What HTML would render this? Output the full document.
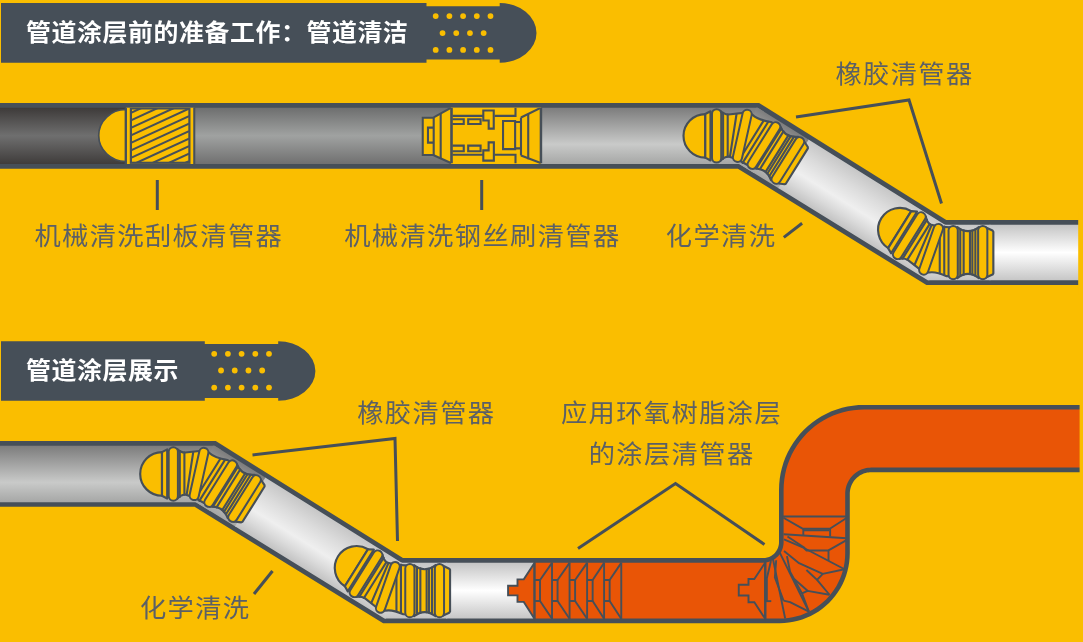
<!DOCTYPE html>
<html lang="zh-CN"><head><meta charset="utf-8"><title>管道涂层</title>
<style>
html,body{margin:0;padding:0;background:#FABE00;}
body{width:1083px;height:642px;overflow:hidden;}
svg{display:block;}
text{font-family:"Liberation Sans","Noto Sans CJK SC",sans-serif;}
.h{font-size:24.2px;font-weight:700;letter-spacing:0.56px;fill:#fff;}
.l{font-size:25.5px;font-weight:400;letter-spacing:1.35px;fill:#5B6066;}
.pg{fill:#FABE00;stroke:#464F58;stroke-width:2.15;stroke-linejoin:round;}
.po{fill:none;stroke:#464F58;stroke-width:11.2;stroke-linecap:round;}
.pi{fill:none;stroke:#FABE00;stroke-width:7.2;stroke-linecap:round;}
.ln{fill:none;stroke:#464F58;stroke-width:2.1;stroke-linecap:round;}
.bl{fill:none;stroke:#464F58;stroke-width:2.1;stroke-linejoin:miter;}
.cl{fill:none;stroke:#464F58;stroke-width:1.9;stroke-linejoin:round;}
.cf{fill:#E95506;stroke:#464F58;stroke-width:1.9;stroke-linejoin:miter;}
.ll{fill:none;stroke:#464F58;stroke-width:3;stroke-linejoin:miter;}
</style></head><body>
<svg width="1083" height="642" viewBox="0 0 1083 642">
<defs>
<linearGradient id="gAt" gradientUnits="userSpaceOnUse" x1="0" y1="107.5" x2="0" y2="164"><stop offset="0" stop-color="#3d3a39"/><stop offset="0.5" stop-color="#6f6f6f"/><stop offset="1" stop-color="#3f3c3b"/></linearGradient>
<linearGradient id="gBt" gradientUnits="userSpaceOnUse" x1="0" y1="107.5" x2="0" y2="164"><stop offset="0" stop-color="#6d6e6e"/><stop offset="0.5" stop-color="#a0a2a1"/><stop offset="1" stop-color="#707070"/></linearGradient>
<linearGradient id="gCt" gradientUnits="userSpaceOnUse" x1="0" y1="107.5" x2="0" y2="164"><stop offset="0" stop-color="#7c7c7c"/><stop offset="0.65" stop-color="#c9cac9"/><stop offset="1" stop-color="#a6a7a6"/></linearGradient>
<linearGradient id="gCdt" gradientUnits="userSpaceOnUse" x1="756.98" y1="106.39" x2="726.35" y2="155.41"><stop offset="0" stop-color="#7c7c7c"/><stop offset="0.65" stop-color="#c9cac9"/><stop offset="1" stop-color="#a6a7a6"/></linearGradient>
<linearGradient id="gDt" gradientUnits="userSpaceOnUse" x1="756.98" y1="106.39" x2="726.35" y2="155.41"><stop offset="0" stop-color="#c6c6c6"/><stop offset="0.3" stop-color="#dcdcdc"/><stop offset="0.6" stop-color="#efefef"/><stop offset="0.8" stop-color="#dadada"/><stop offset="1" stop-color="#c2c2c2"/></linearGradient>
<linearGradient id="gDht" gradientUnits="userSpaceOnUse" x1="0" y1="224.5" x2="0" y2="280.5"><stop offset="0" stop-color="#c6c6c6"/><stop offset="0.3" stop-color="#dcdcdc"/><stop offset="0.6" stop-color="#efefef"/><stop offset="0.8" stop-color="#dadada"/><stop offset="1" stop-color="#c2c2c2"/></linearGradient>
<linearGradient id="gEt" gradientUnits="userSpaceOnUse" x1="0" y1="224.5" x2="0" y2="280.5"><stop offset="0" stop-color="#c4c4c4"/><stop offset="0.5" stop-color="#ffffff"/><stop offset="1" stop-color="#c6c6c6"/></linearGradient>
<linearGradient id="gAb" gradientUnits="userSpaceOnUse" x1="0" y1="445.6" x2="0" y2="502.1"><stop offset="0" stop-color="#3d3a39"/><stop offset="0.5" stop-color="#6f6f6f"/><stop offset="1" stop-color="#3f3c3b"/></linearGradient>
<linearGradient id="gBb" gradientUnits="userSpaceOnUse" x1="0" y1="445.6" x2="0" y2="502.1"><stop offset="0" stop-color="#6d6e6e"/><stop offset="0.5" stop-color="#a0a2a1"/><stop offset="1" stop-color="#707070"/></linearGradient>
<linearGradient id="gCb" gradientUnits="userSpaceOnUse" x1="0" y1="445.6" x2="0" y2="502.1"><stop offset="0" stop-color="#7c7c7c"/><stop offset="0.65" stop-color="#c9cac9"/><stop offset="1" stop-color="#a6a7a6"/></linearGradient>
<linearGradient id="gCdb" gradientUnits="userSpaceOnUse" x1="213.68" y1="444.49" x2="183.05" y2="493.51"><stop offset="0" stop-color="#7c7c7c"/><stop offset="0.65" stop-color="#c9cac9"/><stop offset="1" stop-color="#a6a7a6"/></linearGradient>
<linearGradient id="gDb" gradientUnits="userSpaceOnUse" x1="213.68" y1="444.49" x2="183.05" y2="493.51"><stop offset="0" stop-color="#c6c6c6"/><stop offset="0.3" stop-color="#dcdcdc"/><stop offset="0.6" stop-color="#efefef"/><stop offset="0.8" stop-color="#dadada"/><stop offset="1" stop-color="#c2c2c2"/></linearGradient>
<linearGradient id="gDhb" gradientUnits="userSpaceOnUse" x1="0" y1="562.6" x2="0" y2="618.6"><stop offset="0" stop-color="#c6c6c6"/><stop offset="0.3" stop-color="#dcdcdc"/><stop offset="0.6" stop-color="#efefef"/><stop offset="0.8" stop-color="#dadada"/><stop offset="1" stop-color="#c2c2c2"/></linearGradient>
<linearGradient id="gEb" gradientUnits="userSpaceOnUse" x1="0" y1="562.6" x2="0" y2="618.6"><stop offset="0" stop-color="#c4c4c4"/><stop offset="0.5" stop-color="#ffffff"/><stop offset="1" stop-color="#c6c6c6"/></linearGradient>
<clipPath id="cpT"><polygon points="-15.25,107.75 -15.25,163.95 739.25,163.95 927.75,280.35 1095.25,280.35 1095.25,224.75 944.94,224.75 757.74,107.75"/></clipPath>
<filter id="gs" x="-5%" y="-20%" width="110%" height="140%"><feOffset dx="0" dy="0"/></filter>
</defs>
<rect x="0" y="0" width="1083" height="642" fill="#FABE00"/>
<path d="M1,3 H426.5 V6.3 H499.7 V3 A36.8,29.9 0 0 1 499.7,62.8 V59.5 H426.5 V62.8 H1 Z" fill="#464F58"/>
<circle cx="435.7" cy="16.1" r="2.9" fill="#FABE00"/>
<circle cx="449.4" cy="16.1" r="2.9" fill="#FABE00"/>
<circle cx="463.1" cy="16.1" r="2.9" fill="#FABE00"/>
<circle cx="476.8" cy="16.1" r="2.9" fill="#FABE00"/>
<circle cx="490.5" cy="16.1" r="2.9" fill="#FABE00"/>
<circle cx="442.55" cy="33.1" r="2.9" fill="#FABE00"/>
<circle cx="456.25" cy="33.1" r="2.9" fill="#FABE00"/>
<circle cx="469.95" cy="33.1" r="2.9" fill="#FABE00"/>
<circle cx="483.65" cy="33.1" r="2.9" fill="#FABE00"/>
<circle cx="435.7" cy="49.9" r="2.9" fill="#FABE00"/>
<circle cx="449.4" cy="49.9" r="2.9" fill="#FABE00"/>
<circle cx="463.1" cy="49.9" r="2.9" fill="#FABE00"/>
<circle cx="476.8" cy="49.9" r="2.9" fill="#FABE00"/>
<circle cx="490.5" cy="49.9" r="2.9" fill="#FABE00"/>
<text transform="translate(26.1,41.2) scale(1.03,1)" class="h" filter="url(#gs)">管道涂层前的准备工作：管道清洁</text>
<path d="M1,341.3 H204.8 V343.9 H278.2 V341.3 A37.2,29.7 0 0 1 278.2,400.7 V398.1 H204.8 V400.7 H1 Z" fill="#464F58"/>
<circle cx="214.2" cy="353.8" r="2.9" fill="#FABE00"/>
<circle cx="227.9" cy="353.8" r="2.9" fill="#FABE00"/>
<circle cx="241.6" cy="353.8" r="2.9" fill="#FABE00"/>
<circle cx="255.3" cy="353.8" r="2.9" fill="#FABE00"/>
<circle cx="269" cy="353.8" r="2.9" fill="#FABE00"/>
<circle cx="221.05" cy="370.5" r="2.9" fill="#FABE00"/>
<circle cx="234.75" cy="370.5" r="2.9" fill="#FABE00"/>
<circle cx="248.45" cy="370.5" r="2.9" fill="#FABE00"/>
<circle cx="262.15" cy="370.5" r="2.9" fill="#FABE00"/>
<circle cx="214.2" cy="387.6" r="2.9" fill="#FABE00"/>
<circle cx="227.9" cy="387.6" r="2.9" fill="#FABE00"/>
<circle cx="241.6" cy="387.6" r="2.9" fill="#FABE00"/>
<circle cx="255.3" cy="387.6" r="2.9" fill="#FABE00"/>
<circle cx="269" cy="387.6" r="2.9" fill="#FABE00"/>
<text transform="translate(26.1,378.5) scale(1.03,1)" class="h" filter="url(#gs)">管道涂层展示</text>
<polygon points="-20,103 759.1,103 946.3,220 1100,220 1100,285.1 926.4,285.1 737.9,168.7 -20,168.7" fill="#464F58"/>
<g clip-path="url(#cpT)">
<rect x="-20" y="99" width="146" height="74" fill="url(#gAt)"/>
<rect x="126" y="99" width="374" height="74" fill="url(#gBt)"/>
<rect x="500" y="99" width="264" height="74" fill="url(#gCt)"/>
<polygon points="758.1,101 818.14,126.31 770.44,202.63 736.9,170.7" fill="url(#gCdt)"/>
<polygon points="817.29,125.78 947.3,218 927.4,287.1 769.59,202.1" fill="url(#gDt)"/>
<polygon points="946.3,218 990.5,218 990.5,287.1 926.4,287.1" fill="url(#gDht)"/>
<rect x="989.5" y="218" width="111.5" height="70" fill="url(#gEt)"/>
</g>
<g clip-path="url(#cpT)">
<rect x="125.8" y="104" width="67.8" height="64" fill="#FABE00"/>
<path d="M125.8,109.5 A27.1,26 0 0 0 125.8,161.5 Z" fill="#FABE00" stroke="#464F58" stroke-width="1.7"/>
<rect x="130.9" y="108.4" width="58.5" height="54.4" fill="none" stroke="#464F58" stroke-width="2.2"/>
<path d="M125.8,104 V168" stroke="#464F58" stroke-width="2.3" fill="none"/>
<path d="M194.3,104 V168" stroke="#464F58" stroke-width="2.0" fill="none"/>
<clipPath id="hc"><rect x="131.5" y="108.4" width="57.5" height="54.4"/></clipPath>
<g clip-path="url(#hc)" stroke="#464F58" stroke-width="2.1">
<path d="M131.5,105.1 L189,78.65"/>
<path d="M131.5,112.6 L189,86.15"/>
<path d="M131.5,120.1 L189,93.65"/>
<path d="M131.5,127.6 L189,101.15"/>
<path d="M131.5,135.1 L189,108.65"/>
<path d="M131.5,142.6 L189,116.15"/>
<path d="M131.5,150.1 L189,123.65"/>
<path d="M131.5,157.6 L189,131.15"/>
<path d="M131.5,165.1 L189,138.65"/>
<path d="M131.5,172.6 L189,146.15"/>
<path d="M131.5,180.1 L189,153.65"/>
<path d="M131.5,187.6 L189,161.15"/>
<path d="M131.5,195.1 L189,168.65"/>
</g>
<polygon points="421.86,117.19 433.7,117.19 450.54,107.47 540.94,107.47 540.94,163.33 450.54,163.33 433.7,155.47 421.86,155.47" fill="#FABE00"/>
<rect x="451.16" y="104.98" width="89.65" height="61.1" fill="#FABE00"/>
<path d="M422.73,117.69 L433.7,117.69 L433.7,154.98 L422.73,154.98 Z" class="bl"/>
<path d="M433.7,127.67 L427.97,127.67 L427.97,142.63 L433.7,142.63" class="bl"/>
<path d="M433.7,117.44 L450.91,107.84" class="bl"/>
<path d="M433.7,155.22 L450.91,162.96" class="bl"/>
<path d="M440.69,113.7 L440.69,158.84" class="bl"/>
<path d="M451.5,107.47 V163.33" stroke="#464F58" stroke-width="2.6" fill="none"/>
<path d="M452.41,115.9 L483.2,115.9" class="bl"/>
<path d="M452.41,154.8 L483.2,154.8" class="bl"/>
<path d="M452.41,119.31 L463.75,119.31 L463.75,124 L452.41,124" class="bl"/>
<path d="M468.2,119.31 L480.59,119.31 L480.59,124 L468.2,124 Z" class="bl"/>
<path d="M452.41,151.2 L463.75,151.2 L463.75,145.6 L452.41,145.6" class="bl"/>
<path d="M468.2,151.2 L480.59,151.2 L480.59,145.6 L468.2,145.6 Z" class="bl"/>
<path d="M483.3,110.5 L493.74,110.5 L493.74,128.67 L488.69,128.67 L488.69,120.56 L483.3,120.56 Z" class="bl"/>
<path d="M483.3,160.59 L493.87,160.59 L493.87,142.38 L488.63,142.38 L488.63,150.4 L483.3,150.4 Z" class="bl"/>
<path d="M494.68,115.9 L515.5,115.9 L515.5,107.47" class="bl"/>
<path d="M494.68,154.8 L515.5,154.8 L515.5,163.33" class="bl"/>
<path d="M503.03,120.94 L515.12,120.94 L515.12,149.11 L503.03,149.11 Z" class="bl"/>
<path d="M515.12,121.93 L520.74,121.93" class="bl"/>
<path d="M515.12,148.37 L520.74,148.37" class="bl"/>
<path d="M520.99,117.44 L520.99,155.47" class="bl"/>
<path d="M528.22,113.7 L528.22,159.21" class="bl"/>
<path d="M540.94,107.47 V163.33" stroke="#464F58" stroke-width="2.5" fill="none"/>
<path d="M520.99,117.44 L540.69,107.84" class="bl"/>
<path d="M520.99,155.47 L540.69,162.96" class="bl"/>
</g>
<path d="M705.3,114.05 A21.8,21.8 0 0 0 705.3,157.65 Z" class="pg"/>
<polygon points="705.3,114.05 710.5,111.25 710.5,160.45 705.3,157.65" class="pg"/>
<path d="M720.5,110.85 Q723.5,114.25 728.5,114.45 L747.54,112.43 L737.06,159.27 L728.5,156.45 Q723.5,157.05 720.5,160.85 Z" class="pg"/>
<path d="M723.1,112.85 L723.1,158.85" class="ln"/>
<path d="M727.7,114.45 L727.7,156.65" class="ln"/>
<path d="M736.5,114.25 L730,156.25" class="ln"/>
<path d="M747.54,112.43 L752.74,114.92 Q757.51,119.55 770.93,122.04 L776.65,125.14 L750.68,166.7 L737.06,159.27 Z" class="pg"/>
<path d="M763.49,120.93 L738.79,160.44" class="ln"/>
<path d="M768.26,121.78 L742.61,162.83" class="ln"/>
<path d="M779.82,125.36 Q784.38,137.87 798.05,136.75 L771.02,180 Q766.04,167.22 752.79,168.6 Z" class="pg"/>
<path d="M781.22,128.59 L756.31,168.44" class="ln"/>
<path d="M783.47,131.41 L759.83,169.23" class="ln"/>
<path d="M788.39,135.43 L765.6,171.89" class="ln"/>
<path d="M790.63,136.36 L767.42,173.5" class="ln"/>
<path d="M793.87,136.85 L769.28,176.19" class="ln"/>
<polygon points="803.46,140.37 807.82,146.98 807.86,148.42 785.81,183.7 784.5,184.29 776.64,183.27" class="pg"/>
<path d="M716.6,113.75 L716.6,157.95" class="po"/>
<path d="M716.6,113.75 L716.6,157.95" class="pi"/>
<path d="M747.1,114.38 L737.5,157.32" class="po"/>
<path d="M747.1,114.38 L737.5,157.32" class="pi"/>
<path d="M775.59,126.84 L752.27,164.15" class="po"/>
<path d="M775.59,126.84 L752.27,164.15" class="pi"/>
<path d="M799.51,141.79 L776.19,179.1" class="po"/>
<path d="M799.51,141.79 L776.19,179.1" class="pi"/>
<path d="M888.16,248.14 A21.8,21.8 0 0 1 911.27,211.17 Z" class="pg"/>
<polygon points="888.16,248.14 891.09,253.27 917.16,211.55 911.27,211.17" class="pg"/>
<path d="M899.36,258.91 Q903.7,257.62 908.05,260.1 L923.12,271.9 L939.07,226.63 L930.31,224.48 Q926.39,221.32 925.86,216.51 Z" class="pg"/>
<path d="M902.62,258.59 L927,219.58" class="ln"/>
<path d="M907.37,259.67 L929.74,223.89" class="ln"/>
<path d="M914.73,264.51 L931.47,225.45" class="ln"/>
<path d="M923.12,271.9 L928.85,272.55 Q935.35,271.15 946.65,276.15 L953.15,276.55 L953.15,227.55 L939.07,226.63 Z" class="pg"/>
<path d="M939.75,273.15 L939.75,226.55" class="ln"/>
<path d="M944.25,274.95 L944.25,226.55" class="ln"/>
<path d="M957.35,278.05 Q967.85,269.85 978.85,278.05 L978.85,227.05 Q967.85,235.25 957.35,227.05 Z" class="pg"/>
<path d="M960.25,276.05 L960.25,229.05" class="ln"/>
<path d="M963.65,274.85 L963.65,230.25" class="ln"/>
<path d="M969.95,274.05 L969.95,231.05" class="ln"/>
<path d="M972.35,274.45 L972.35,230.65" class="ln"/>
<path d="M975.35,275.75 L975.35,229.35" class="ln"/>
<polygon points="985.35,277.85 992.55,274.55 993.35,273.35 993.35,231.75 992.55,230.55 985.35,227.25" class="pg"/>
<path d="M897.59,254.38 L921.01,216.9" class="po"/>
<path d="M897.59,254.38 L921.01,216.9" class="pi"/>
<path d="M923.78,270.01 L938.4,228.51" class="po"/>
<path d="M923.78,270.01 L938.4,228.51" class="pi"/>
<path d="M953.15,274.55 L953.15,230.55" class="po"/>
<path d="M953.15,274.55 L953.15,230.55" class="pi"/>
<path d="M982.75,274.55 L982.75,230.55" class="po"/>
<path d="M982.75,274.55 L982.75,230.55" class="pi"/>
<polygon points="-20,441.1 215.8,441.1 403,558.1 763,558.1 763,558.1 764.05,558.07 765.09,557.96 766.12,557.79 767.14,557.55 768.14,557.25 769.12,556.88 770.08,556.45 771,555.96 771.89,555.4 772.74,554.79 773.55,554.13 774.31,553.41 775.03,552.65 775.69,551.84 776.3,550.99 776.86,550.1 777.35,549.18 777.78,548.22 778.15,547.24 778.45,546.24 778.69,545.22 778.86,544.19 778.97,543.15 779,542.1 779,489.9 779.18,484.34 779.73,478.81 780.63,473.32 781.9,467.9 783.51,462.58 785.47,457.37 787.77,452.31 790.39,447.4 793.33,442.68 796.56,438.16 800.09,433.86 803.9,429.8 807.96,425.99 812.26,422.46 816.78,419.23 821.5,416.29 826.41,413.67 831.47,411.37 836.68,409.41 842,407.8 847.42,406.53 852.91,405.63 858.44,405.08 864,404.9 1100,404.9 1100,472.2 871.3,472.2 871.3,472.2 869.89,472.25 868.49,472.38 867.11,472.61 865.74,472.93 864.39,473.34 863.07,473.84 861.79,474.42 860.55,475.08 859.36,475.82 858.21,476.64 857.12,477.54 856.1,478.5 855.14,479.52 854.24,480.61 853.42,481.76 852.68,482.95 852.02,484.19 851.44,485.47 850.94,486.79 850.53,488.14 850.21,489.51 849.98,490.89 849.85,492.29 849.8,493.7 849.8,553.2 849.65,557.78 849.2,562.34 848.45,566.86 847.41,571.32 846.09,575.7 844.47,579.99 842.58,584.16 840.42,588.2 838,592.09 835.33,595.81 832.43,599.35 829.3,602.7 825.95,605.83 822.41,608.73 818.69,611.4 814.8,613.82 810.76,615.98 806.59,617.87 802.3,619.49 797.92,620.81 793.46,621.85 788.94,622.6 784.38,623.05 779.8,623.2 383.1,623.2 194.6,506.8 -20,506.8" fill="#464F58"/>
<clipPath id="cpB"><polygon points="-15.4,445.7 -15.4,502.2 195.91,502.2 384.41,618.6 779.72,618.6 784.08,618.46 788.34,618.04 792.56,617.34 796.73,616.37 800.82,615.13 804.83,613.62 808.72,611.85 812.5,609.84 816.13,607.58 819.61,605.08 822.92,602.37 826.04,599.44 828.97,596.32 831.68,593.01 834.18,589.53 836.44,585.9 838.45,582.12 840.22,578.23 841.73,574.22 842.97,570.13 843.94,565.96 844.64,561.74 845.06,557.48 845.2,553.12 845.2,493.62 845.25,491.99 845.42,490.29 845.7,488.61 846.09,486.94 846.58,485.31 847.18,483.71 847.89,482.16 848.69,480.65 849.6,479.2 850.59,477.81 851.68,476.49 852.84,475.24 854.09,474.08 855.41,472.99 856.8,472 858.25,471.09 859.76,470.29 861.31,469.58 862.91,468.98 864.54,468.49 866.21,468.1 867.89,467.82 869.59,467.65 871.22,467.6 1095.4,467.6 1095.4,409.5 864.08,409.5 858.74,409.67 853.51,410.19 848.32,411.05 843.19,412.24 838.16,413.77 833.23,415.62 828.44,417.79 823.8,420.27 819.33,423.05 815.06,426.12 810.99,429.45 807.15,433.05 803.55,436.89 800.22,440.96 797.15,445.23 794.37,449.7 791.89,454.34 789.72,459.13 787.87,464.06 786.34,469.09 785.15,474.22 784.29,479.41 783.77,484.64 783.6,489.98 783.6,542.18 783.56,543.45 783.43,544.79 783.21,546.12 782.9,547.43 782.51,548.72 782.03,549.98 781.48,551.21 780.84,552.4 780.13,553.55 779.35,554.64 778.49,555.68 777.57,556.67 776.58,557.59 775.54,558.45 774.45,559.23 773.3,559.94 772.11,560.58 770.88,561.13 769.62,561.61 768.33,562 767.02,562.31 765.69,562.53 764.35,562.66 763.08,562.7 401.68,562.7 214.48,445.7"/></clipPath>
<g clip-path="url(#cpB)">
<rect x="-20" y="437.1" width="240.7" height="74" fill="url(#gCb)"/>
<polygon points="214.8,439.1 274.84,464.41 227.14,540.73 193.6,508.8" fill="url(#gCdb)"/>
<polygon points="273.99,463.88 404,556.1 384.1,625.2 226.29,540.2" fill="url(#gDb)"/>
<polygon points="403,556.1 447.2,556.1 447.2,625.2 383.1,625.2" fill="url(#gDhb)"/>
<rect x="446.2" y="556.1" width="88.4" height="70" fill="url(#gEb)"/>
<rect x="534.4" y="380" width="560" height="260" fill="#E95506"/>
</g>
<path d="M162,452.15 A21.8,21.8 0 0 0 162,495.75 Z" class="pg"/>
<polygon points="162,452.15 167.2,449.35 167.2,498.55 162,495.75" class="pg"/>
<path d="M177.2,448.95 Q180.2,452.35 185.2,452.55 L204.24,450.53 L193.76,497.37 L185.2,494.55 Q180.2,495.15 177.2,498.95 Z" class="pg"/>
<path d="M179.8,450.95 L179.8,496.95" class="ln"/>
<path d="M184.4,452.55 L184.4,494.75" class="ln"/>
<path d="M193.2,452.35 L186.7,494.35" class="ln"/>
<path d="M204.24,450.53 L209.44,453.02 Q214.21,457.65 227.63,460.14 L233.35,463.24 L207.38,504.8 L193.76,497.37 Z" class="pg"/>
<path d="M220.19,459.03 L195.49,498.54" class="ln"/>
<path d="M224.96,459.88 L199.31,500.93" class="ln"/>
<path d="M236.52,463.46 Q241.08,475.97 254.75,474.85 L227.72,518.1 Q222.74,505.32 209.49,506.7 Z" class="pg"/>
<path d="M237.92,466.69 L213.01,506.54" class="ln"/>
<path d="M240.17,469.51 L216.53,507.33" class="ln"/>
<path d="M245.09,473.53 L222.3,509.99" class="ln"/>
<path d="M247.33,474.46 L224.12,511.6" class="ln"/>
<path d="M250.57,474.95 L225.98,514.29" class="ln"/>
<polygon points="260.16,478.47 264.52,485.08 264.56,486.52 242.51,521.8 241.2,522.39 233.34,521.37" class="pg"/>
<path d="M173.3,451.85 L173.3,496.05" class="po"/>
<path d="M173.3,451.85 L173.3,496.05" class="pi"/>
<path d="M203.8,452.48 L194.2,495.42" class="po"/>
<path d="M203.8,452.48 L194.2,495.42" class="pi"/>
<path d="M232.29,464.94 L208.97,502.25" class="po"/>
<path d="M232.29,464.94 L208.97,502.25" class="pi"/>
<path d="M256.21,479.89 L232.89,517.2" class="po"/>
<path d="M256.21,479.89 L232.89,517.2" class="pi"/>
<path d="M344.86,586.24 A21.8,21.8 0 0 1 367.97,549.27 Z" class="pg"/>
<polygon points="344.86,586.24 347.79,591.37 373.86,549.65 367.97,549.27" class="pg"/>
<path d="M356.06,597.01 Q360.4,595.72 364.75,598.2 L379.82,610 L395.77,564.73 L387.01,562.58 Q383.09,559.42 382.56,554.61 Z" class="pg"/>
<path d="M359.32,596.69 L383.7,557.68" class="ln"/>
<path d="M364.07,597.77 L386.44,561.99" class="ln"/>
<path d="M371.43,602.61 L388.17,563.55" class="ln"/>
<path d="M379.82,610 L385.55,610.65 Q392.05,609.25 403.35,614.25 L409.85,614.65 L409.85,565.65 L395.77,564.73 Z" class="pg"/>
<path d="M396.45,611.25 L396.45,564.65" class="ln"/>
<path d="M400.95,613.05 L400.95,564.65" class="ln"/>
<path d="M414.05,616.15 Q424.55,607.95 435.55,616.15 L435.55,565.15 Q424.55,573.35 414.05,565.15 Z" class="pg"/>
<path d="M416.95,614.15 L416.95,567.15" class="ln"/>
<path d="M420.35,612.95 L420.35,568.35" class="ln"/>
<path d="M426.65,612.15 L426.65,569.15" class="ln"/>
<path d="M429.05,612.55 L429.05,568.75" class="ln"/>
<path d="M432.05,613.85 L432.05,567.45" class="ln"/>
<polygon points="442.05,615.95 449.25,612.65 450.05,611.45 450.05,569.85 449.25,568.65 442.05,565.35" class="pg"/>
<path d="M354.29,592.48 L377.71,555" class="po"/>
<path d="M354.29,592.48 L377.71,555" class="pi"/>
<path d="M380.48,608.11 L395.1,566.61" class="po"/>
<path d="M380.48,608.11 L395.1,566.61" class="pi"/>
<path d="M409.85,612.65 L409.85,568.65" class="po"/>
<path d="M409.85,612.65 L409.85,568.65" class="pi"/>
<path d="M439.45,612.65 L439.45,568.65" class="po"/>
<path d="M439.45,612.65 L439.45,568.65" class="pi"/>
<path d="M508.07,585.8 L517.49,585.8 L517.49,579.34 L523.77,579.34 L534.48,562.9 L534.48,618.67 L523.77,601.87 L517.49,601.87 L517.49,595.4 L508.07,595.4 Z" class="cf"/>
<path d="M534.48,562.53 L534.48,619.04" class="cl"/>
<path d="M534.48,580.07 L540.02,580.07 L540.02,600.94 L534.48,600.94" class="cl"/>
<path d="M540.02,580.07 L552.02,562.9" class="cl"/>
<path d="M540.02,600.94 L552.02,618.67" class="cl"/>
<path d="M552.02,562.53 L552.02,619.04" class="cl"/>
<path d="M552.02,580.07 L557.56,580.07 L557.56,600.94 L552.02,600.94" class="cl"/>
<path d="M557.56,580.07 L569.57,562.9" class="cl"/>
<path d="M557.56,600.94 L569.57,618.67" class="cl"/>
<path d="M569.57,562.53 L569.57,619.04" class="cl"/>
<path d="M569.57,580.07 L575.11,580.07 L575.11,600.94 L569.57,600.94" class="cl"/>
<path d="M575.11,580.07 L587.11,562.9" class="cl"/>
<path d="M575.11,600.94 L587.11,618.67" class="cl"/>
<path d="M587.11,562.53 L587.11,619.04" class="cl"/>
<path d="M587.11,580.07 L592.65,580.07 L592.65,600.94 L587.11,600.94" class="cl"/>
<path d="M592.65,580.07 L604.1,562.9" class="cl"/>
<path d="M592.65,600.94 L604.1,618.67" class="cl"/>
<path d="M604.1,562.53 L604.1,619.04" class="cl"/>
<path d="M604.1,580.07 L609.64,580.07 L609.64,600.94 L604.1,600.94" class="cl"/>
<path d="M609.64,580.07 L621.27,562.9" class="cl"/>
<path d="M609.64,600.94 L621.27,618.67" class="cl"/>
<path d="M621.27,562.53 L621.27,619.04" class="cl"/>
<path d="M738.76,584.8 L748.49,584.8 L748.49,578.96 L754.33,578.96 L765.03,562.8 L765.03,618.47 L754.33,602.31 L748.49,602.31 L748.49,595.5 L738.76,595.5 Z" class="cf"/>
<path d="M765.54,561.07 L765.54,619.29" class="cl"/>
<path d="M770.93,561.07 L766.84,578.24 L766.84,601.14" class="cl"/>
<path d="M765.54,601.14 L771.26,601.14" class="cl"/>
<path d="M772.89,558.62 L785.16,618.47" class="cl"/>
<path d="M776.17,560.25 L774.86,577.42 L783.52,600.65" class="cl"/>
<path d="M779.76,552.57 L808.87,611.6" class="cl"/>
<path d="M783.52,600.65 L790.07,602.12 L808.87,611.6" class="cl"/>
<path d="M786.96,556.17 L790.07,571.7 L802,593.45 L808.87,611.6" class="cl"/>
<path d="M802,593.45 L807.56,590.83 L829.48,594.76" class="cl"/>
<path d="M794.15,579.06 L807.56,590.83" class="cl"/>
<path d="M784.01,551.1 L799.06,563.2 L822.77,573.83 L844.52,569.25" class="cl"/>
<path d="M787.46,536.42 L804.91,548.01" class="cl"/>
<path d="M822.77,573.83 L817.05,579.88 L829.48,594.76" class="cl"/>
<path d="M806.42,570.07 L817.05,579.88" class="cl"/>
<path d="M784.01,539.48 L803.97,547.99 L844.52,569.25" class="cl"/>
<path d="M803.97,547.99 L806.58,550.44 L828.5,550.44 L828.5,561.07" class="cl"/>
<path d="M828.5,550.44 L846.48,540.14" class="cl"/>
<path d="M783.52,534.25 L846.81,538.18" class="cl"/>
<path d="M803.31,528.69 L803.31,534.91" class="cl"/>
<path d="M830.13,529.02 L830.13,536.54" class="cl"/>
<path d="M782.73,516.48 L847.02,516.48" class="cl"/>
<path d="M783.47,517.73 L802.54,528.69 L829.83,528.69 L846.53,517.98" class="cl"/>
<path d="M803.41,530.31 L829.33,530.31" class="cl"/>
<rect x="1078.2" y="210" width="10" height="85" fill="#FABE00"/>
<rect x="1079.6" y="395" width="10" height="85" fill="#FABE00"/>
<path d="M157.3,180 L157.3,210" class="ll"/>
<path d="M481.7,180 L481.7,210" class="ll"/>
<path d="M796,117 L909,100 L941.5,203.5" class="ll"/>
<path d="M783.8,237.4 L802.1,223.3" class="ll"/>
<path d="M252.5,455 L395,438.5 L397.5,541" class="ll"/>
<path d="M254,594 L272.5,571" class="ll"/>
<path d="M578,548.5 L675.5,483.5 L764.5,544.5" class="ll"/>
<text transform="translate(158.8,245.3) scale(1.03,1)" class="l" text-anchor="middle" filter="url(#gs)">机械清洗刮板清管器</text>
<text transform="translate(482.4,245.3) scale(1.03,1)" class="l" text-anchor="middle" filter="url(#gs)">机械清洗钢丝刷清管器</text>
<text transform="translate(721.1,245) scale(1.03,1)" class="l" text-anchor="middle" filter="url(#gs)">化学清洗</text>
<text transform="translate(904.5,83.2) scale(1.03,1)" class="l" text-anchor="middle" filter="url(#gs)">橡胶清管器</text>
<text transform="translate(426.3,421.6) scale(1.03,1)" class="l" text-anchor="middle" filter="url(#gs)">橡胶清管器</text>
<text transform="translate(195.2,617) scale(1.03,1)" class="l" text-anchor="middle" filter="url(#gs)">化学清洗</text>
<text transform="translate(671.5,422.4) scale(1.03,1)" class="l" text-anchor="middle" filter="url(#gs)">应用环氧树脂涂层</text>
<text transform="translate(671.6,463.1) scale(1.03,1)" class="l" text-anchor="middle" filter="url(#gs)">的涂层清管器</text>
</svg>
</body></html>
